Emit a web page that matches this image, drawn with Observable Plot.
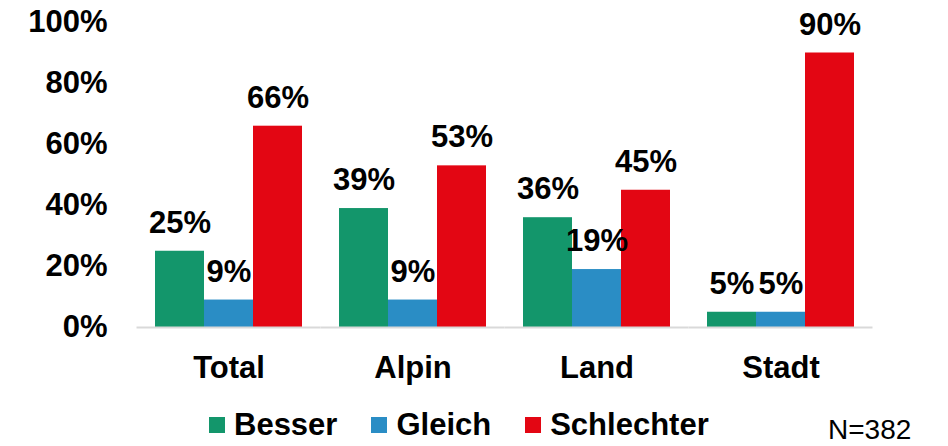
<!DOCTYPE html>
<html>
<head>
<meta charset="utf-8">
<script src="https://cdn.jsdelivr.net/npm/d3@7"></script>
<script src="https://cdn.jsdelivr.net/npm/@observablehq/plot@0.6"></script>
<style>
  html, body { margin: 0; padding: 0; background: #fff; }
  body { width: 948px; height: 446px; overflow: hidden; font-family: "Liberation Sans", Arial, sans-serif; }
  #legend { position: relative; height: 46px; display: flex; align-items: center; padding-left: 209px; padding-top: 4px; box-sizing: border-box; font-weight: bold; font-size: 31px; color: #000; }
  .item { display: flex; align-items: center; margin-right: 34px; }
  .sw { width: 16px; height: 16px; margin-right: 9px; }
  #note { position: absolute; left: 828px; top: 18px; font-weight: normal; font-size: 28px; line-height: 24px; }
</style>
</head>
<body>
<div id="chart"></div>
<div id="legend"></div>
<script>
const groups = ["Total", "Alpin", "Land", "Stadt"];
const series = ["Besser", "Gleich", "Schlechter"];
const colors = ["#13966B", "#2A8DC5", "#E30613"];
const besser = [25, 39, 36, 5];
const gleich = [9, 9, 19, 5];
const schlechter = [66, 53, 45, 90];
const yTicks = [0, 0.2, 0.4, 0.6, 0.8, 1];
const note = "N=382";

const valuesBySeries = [besser, gleich, schlechter];
const data = [];
groups.forEach((g, gi) => {
  series.forEach((s, si) => {
    data.push({group: g, series: s, value: valuesBySeries[si][gi] / 100});
  });
});

const fmt = d3.format(".0%");
const font = "'Liberation Sans', Arial, sans-serif";

const chart = Plot.plot({
  width: 948,
  height: 400,
  marginTop: 22,
  marginBottom: 73,
  marginLeft: 118,
  marginRight: 57,
  style: {fontFamily: font, fontSize: "31px", fontWeight: "bold", color: "#000", background: "#fff"},
  fx: {domain: groups, paddingInner: 0.2, paddingOuter: 0.2, label: null},
  x: {domain: series, padding: 0, axis: null},
  y: {domain: [0, 1], label: null},
  color: {domain: series, range: colors},
  marks: [
    Plot.barY(data, {fx: "group", x: "series", y: "value", fill: "series"}),
    Plot.ruleY([0], {stroke: "#D9D9D9", strokeWidth: 2, insetLeft: -18.5, insetRight: -18.5}),
    Plot.text(data, {fx: "group", x: "series", y: "value", text: d => fmt(d.value), dy: -18.5, lineAnchor: "bottom", fontSize: 31, fontWeight: "bold", fill: "#000"}),
    Plot.axisY({ticks: yTicks, tickFormat: fmt, tickSize: 0, tickPadding: 48, fontSize: 31, fontWeight: "bold", label: null}),
    Plot.axisFx({anchor: "bottom", tickSize: 0, tickPadding: 28, fontSize: 31, fontWeight: "bold", label: null})
  ]
});
document.getElementById("chart").appendChild(chart);

const legend = document.getElementById("legend");
series.forEach((s, i) => {
  const item = document.createElement("div");
  item.className = "item";
  const sw = document.createElement("div");
  sw.className = "sw";
  sw.style.background = colors[i];
  const t = document.createElement("span");
  t.textContent = s;
  item.appendChild(sw);
  item.appendChild(t);
  legend.appendChild(item);
});
const n = document.createElement("div");
n.id = "note";
n.textContent = note;
legend.appendChild(n);
</script>
</body>
</html>
